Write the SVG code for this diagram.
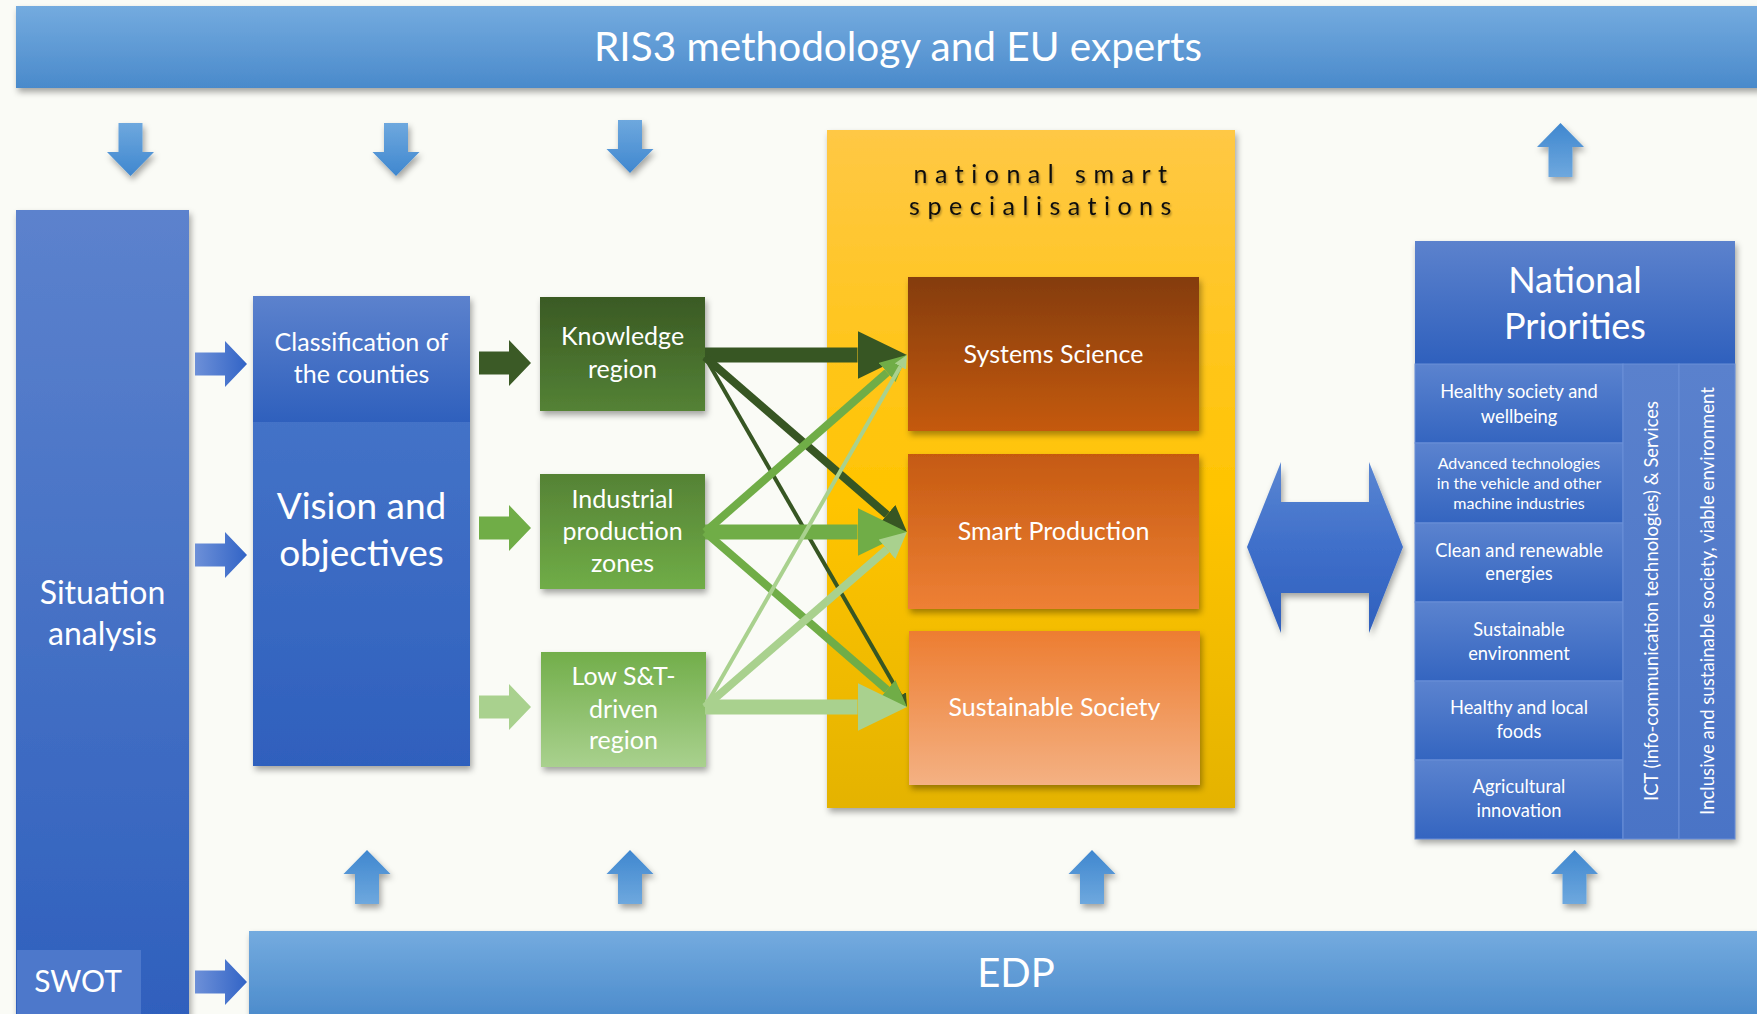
<svg xmlns="http://www.w3.org/2000/svg" xmlns:xlink="http://www.w3.org/1999/xlink" width="1757" height="1014" viewBox="0 0 1757 1014">
<defs>
<style>
.t{font-family:Lato,"Liberation Sans",sans-serif;fill:#ffffff;text-anchor:middle}
.nss{font-family:Lato,"Liberation Sans",sans-serif;fill:#111111;font-size:25px;letter-spacing:7.5px;text-anchor:middle}
.cd{stroke:#375623;fill:none}
.cm{stroke:#70ad47;fill:none}
.cl{stroke:#a9d18e;fill:none}
</style>
<filter id="sh" x="-10%" y="-10%" width="125%" height="125%"><feDropShadow dx="2" dy="4" stdDeviation="3" flood-color="#000" flood-opacity="0.35"/></filter>
<filter id="tsh" x="-10%" y="-20%" width="120%" height="150%"><feDropShadow dx="1" dy="2" stdDeviation="1" flood-color="#000" flood-opacity="0.35"/></filter>
<linearGradient id="gBanner" x1="0" y1="0" x2="0" y2="1"><stop offset="0" stop-color="#74abdf"/><stop offset="1" stop-color="#4a8acb"/></linearGradient>
<linearGradient id="gBlue" x1="0" y1="0" x2="0" y2="1"><stop offset="0" stop-color="#5c82cd"/><stop offset="1" stop-color="#2f60bd"/></linearGradient>
<linearGradient id="gBlue2" x1="0" y1="0" x2="0" y2="1"><stop offset="0" stop-color="#4b79cb"/><stop offset="1" stop-color="#2f60bd"/></linearGradient>
<linearGradient id="gRow" x1="0" y1="0" x2="0" y2="1"><stop offset="0" stop-color="#5b83cf"/><stop offset="1" stop-color="#3465c0"/></linearGradient>
<linearGradient id="gCol" x1="0" y1="0" x2="0" y2="1"><stop offset="0" stop-color="#5a81cd"/><stop offset="1" stop-color="#4a74c6"/></linearGradient>
<linearGradient id="gG1" x1="0" y1="0" x2="0" y2="1"><stop offset="0" stop-color="#3a5a24"/><stop offset="1" stop-color="#548235"/></linearGradient>
<linearGradient id="gG2" x1="0" y1="0" x2="0" y2="1"><stop offset="0" stop-color="#558235"/><stop offset="1" stop-color="#70ad47"/></linearGradient>
<linearGradient id="gG3" x1="0" y1="0" x2="0" y2="1"><stop offset="0" stop-color="#72ae4a"/><stop offset="1" stop-color="#a9d18e"/></linearGradient>
<linearGradient id="gO1" x1="0" y1="0" x2="0" y2="1"><stop offset="0" stop-color="#843c0c"/><stop offset="1" stop-color="#c55a11"/></linearGradient>
<linearGradient id="gO2" x1="0" y1="0" x2="0" y2="1"><stop offset="0" stop-color="#c55a11"/><stop offset="1" stop-color="#ee8035"/></linearGradient>
<linearGradient id="gO3" x1="0" y1="0" x2="0" y2="1"><stop offset="0" stop-color="#ed7d31"/><stop offset="1" stop-color="#f4b183"/></linearGradient>
<linearGradient id="gY" x1="0" y1="0" x2="0" y2="1"><stop offset="0" stop-color="#ffc845"/><stop offset="0.55" stop-color="#ffc400"/><stop offset="1" stop-color="#e4b300"/></linearGradient>
<linearGradient id="gDn" x1="0" y1="0" x2="0" y2="1"><stop offset="0" stop-color="#6ea8de"/><stop offset="1" stop-color="#3f87cf"/></linearGradient>
<linearGradient id="gUp" x1="0" y1="0" x2="0" y2="1"><stop offset="0" stop-color="#3f87cf"/><stop offset="1" stop-color="#6ea8de"/></linearGradient>
<linearGradient id="gRt" x1="0" y1="0" x2="1" y2="0"><stop offset="0" stop-color="#6d90d8"/><stop offset="1" stop-color="#3264c6"/></linearGradient>
<linearGradient id="gDbl" x1="0" y1="0" x2="0" y2="1"><stop offset="0" stop-color="#5a86d2"/><stop offset="0.5" stop-color="#3f6fca"/><stop offset="1" stop-color="#2f60bd"/></linearGradient>
<path id="dnArrow" d="M-12,0 H12 V29 H23.5 L0,53 L-23.5,29 H-12 Z"/>
<path id="upArrow" d="M0,0 L23.5,24 H12 V54 H-12 V24 H-23.5 Z"/>
<path id="rtArrow" d="M0,-11.5 H30 V-23 L52,0 L30,23 V11.5 H0 Z"/>
<marker id="mD" viewBox="0 0 3.3 3.2" markerWidth="3.3" markerHeight="3.2" refX="0" refY="1.6" orient="auto" markerUnits="strokeWidth"><path d="M0,0 L3.3,1.6 L0,3.2 Z" fill="#375623"/></marker>
<marker id="mM" viewBox="0 0 3.3 3.2" markerWidth="3.3" markerHeight="3.2" refX="0" refY="1.6" orient="auto" markerUnits="strokeWidth"><path d="M0,0 L3.3,1.6 L0,3.2 Z" fill="#70ad47"/></marker>
<marker id="mL" viewBox="0 0 3.3 3.2" markerWidth="3.3" markerHeight="3.2" refX="0" refY="1.6" orient="auto" markerUnits="strokeWidth"><path d="M0,0 L3.3,1.6 L0,3.2 Z" fill="#a9d18e"/></marker>
</defs>
<rect x="0" y="0" width="1757" height="1014" fill="#fafbf6"/>

<g id="ris3-banner">
<rect x="16" y="6" width="1745" height="82" fill="url(#gBanner)" filter="url(#sh)"/>
<text class="t" x="898" y="61" font-size="40.5">RIS3 methodology and EU experts</text>
</g>

<g id="situation-analysis">
<rect x="16" y="210" width="173" height="810" fill="url(#gBlue)" filter="url(#sh)"/>
<text class="t" x="102.5" y="604" font-size="32">Situation</text>
<text class="t" x="102.5" y="645" font-size="32">analysis</text>
</g>

<g id="swot">
<rect x="17" y="950" width="124" height="70" fill="#4d78cb"/>
<text class="t" x="78" y="992" font-size="30">SWOT</text>
</g>

<g id="classification">
<rect x="253" y="296" width="217" height="470" fill="url(#gBlue2)" filter="url(#sh)"/>
<rect x="253" y="296" width="217" height="126" fill="url(#gBlue)"/>
<text class="t" x="361.5" y="351" font-size="25">Classification of</text>
<text class="t" x="361.5" y="383" font-size="25">the counties</text>
</g>

<g id="vision">
<text class="t" x="361.5" y="519" font-size="37">Vision and</text>
<text class="t" x="361.5" y="566" font-size="37">objectives</text>
</g>

<g id="knowledge-region">
<rect x="540" y="297" width="165" height="114" fill="url(#gG1)" filter="url(#sh)"/>
<text class="t" x="622.5" y="345" font-size="25">Knowledge</text>
<text class="t" x="622.5" y="378" font-size="25">region</text>
</g>

<g id="industrial-zones">
<rect x="540" y="474" width="165" height="115" fill="url(#gG2)" filter="url(#sh)"/>
<text class="t" x="622.5" y="508" font-size="25">Industrial</text>
<text class="t" x="622.5" y="540" font-size="25">production</text>
<text class="t" x="622.5" y="572" font-size="25">zones</text>
</g>

<g id="low-st-region">
<rect x="541" y="652" width="165" height="115" fill="url(#gG3)" filter="url(#sh)"/>
<text class="t" x="623.5" y="685" font-size="25">Low S&amp;T-</text>
<text class="t" x="623.5" y="718" font-size="25">driven</text>
<text class="t" x="623.5" y="749" font-size="25">region</text>
</g>

<g id="national-smart-specialisations">
<rect x="827" y="130" width="408" height="678" fill="url(#gY)" filter="url(#sh)"/>
<g filter="url(#tsh)">
<text class="nss" x="1044" y="183">national smart</text>
<text class="nss" x="1044" y="215">specialisations</text>
</g>
</g>

<g id="systems-science">
<rect x="908" y="277" width="291" height="154" fill="url(#gO1)" filter="url(#sh)"/>
<text class="t" x="1053.5" y="363" font-size="25">Systems Science</text>
</g>

<g id="smart-production">
<rect x="908" y="454" width="291" height="155" fill="url(#gO2)" filter="url(#sh)"/>
<text class="t" x="1053.5" y="540" font-size="25">Smart Production</text>
</g>

<g id="sustainable-society">
<rect x="909" y="631" width="291" height="154" fill="url(#gO3)" filter="url(#sh)"/>
<text class="t" x="1054.5" y="716" font-size="25">Sustainable Society</text>
</g>

<g id="national-priorities">
<rect x="1415" y="241" width="320" height="598" fill="url(#gCol)" filter="url(#sh)"/>
<rect x="1415" y="241" width="320" height="123" fill="url(#gBlue)"/>
<text class="t" x="1575" y="293" font-size="36">National</text>
<text class="t" x="1575" y="339" font-size="36">Priorities</text>
<g stroke="#6a8fd8" stroke-width="1">
<rect x="1415" y="364" width="208" height="79" fill="url(#gRow)"/>
<rect x="1415" y="443" width="208" height="80" fill="url(#gRow)"/>
<rect x="1415" y="523" width="208" height="79" fill="url(#gRow)"/>
<rect x="1415" y="602" width="208" height="79" fill="url(#gRow)"/>
<rect x="1415" y="681" width="208" height="79" fill="url(#gRow)"/>
<rect x="1415" y="760" width="208" height="79" fill="url(#gRow)"/>
<rect x="1623" y="364" width="56" height="475" fill="url(#gCol)"/>
<rect x="1679" y="364" width="56" height="475" fill="url(#gCol)"/>
</g>
<text class="t" x="1519" y="398" font-size="18.3">Healthy society and</text>
<text class="t" x="1519" y="423" font-size="18.3">wellbeing</text>
<text class="t" x="1519" y="469" font-size="16">Advanced technologies</text>
<text class="t" x="1519" y="489" font-size="16">in the vehicle and other</text>
<text class="t" x="1519" y="509" font-size="16">machine industries</text>
<text class="t" x="1519" y="557" font-size="18.3">Clean and renewable</text>
<text class="t" x="1519" y="580" font-size="18.3">energies</text>
<text class="t" x="1519" y="636" font-size="18.3">Sustainable</text>
<text class="t" x="1519" y="660" font-size="18.3">environment</text>
<text class="t" x="1519" y="714" font-size="18.3">Healthy and local</text>
<text class="t" x="1519" y="738" font-size="18.3">foods</text>
<text class="t" x="1519" y="793" font-size="18.3">Agricultural</text>
<text class="t" x="1519" y="817" font-size="18.3">innovation</text>
<text class="t" transform="translate(1658,601) rotate(-90)" font-size="18.4">ICT (info-communication technologies) &amp; Services</text>
<text class="t" transform="translate(1714,601) rotate(-90)" font-size="18.6">Inclusive and sustainable society, viable environment</text>
</g>

<g id="edp-banner">
<rect x="249" y="931" width="1512" height="90" fill="url(#gBanner)" filter="url(#sh)"/>
<text class="t" x="1016" y="987" font-size="40">EDP</text>
</g>

<g id="connectors">
<g fill="url(#gDn)" filter="url(#sh)">
<use xlink:href="#dnArrow" href="#dnArrow" x="130.5" y="123"/>
<use xlink:href="#dnArrow" href="#dnArrow" x="396" y="123"/>
<use xlink:href="#dnArrow" href="#dnArrow" x="630" y="120"/>
</g>
<g fill="url(#gUp)" filter="url(#sh)">
<use xlink:href="#upArrow" href="#upArrow" x="1560.5" y="123"/>
<use xlink:href="#upArrow" href="#upArrow" x="367" y="850"/>
<use xlink:href="#upArrow" href="#upArrow" x="630" y="850"/>
<use xlink:href="#upArrow" href="#upArrow" x="1092" y="850"/>
<use xlink:href="#upArrow" href="#upArrow" x="1574.5" y="850"/>
</g>
<g fill="url(#gRt)">
<use xlink:href="#rtArrow" href="#rtArrow" x="195" y="364"/>
<use xlink:href="#rtArrow" href="#rtArrow" x="195" y="555"/>
<use xlink:href="#rtArrow" href="#rtArrow" x="195" y="982"/>
</g>
<use xlink:href="#rtArrow" href="#rtArrow" x="479" y="363" fill="#3b5a26"/>
<use xlink:href="#rtArrow" href="#rtArrow" x="479" y="528" fill="#70ad47"/>
<use xlink:href="#rtArrow" href="#rtArrow" x="479" y="707" fill="#a9d18e"/>
<polygon points="1247,547 1281,462 1281,502 1369,502 1369,462 1403,547 1369,633 1369,593 1281,593 1281,633" fill="url(#gDbl)" filter="url(#sh)"/>
<line class="cd" x1="705" y1="355" x2="857.5" y2="355" stroke-width="15" marker-end="url(#mD)"/>
<line class="cd" x1="705" y1="357" x2="887" y2="514.7" stroke-width="8" marker-end="url(#mD)"/>
<line class="cd" x1="705" y1="357" x2="900.4" y2="695.6" stroke-width="4" marker-end="url(#mD)"/>
<line class="cm" x1="705" y1="532" x2="887.1" y2="372.4" stroke-width="8" marker-end="url(#mM)"/>
<line class="cm" x1="705" y1="532" x2="857.5" y2="532" stroke-width="15" marker-end="url(#mM)"/>
<line class="cm" x1="705" y1="532" x2="887" y2="689.7" stroke-width="8" marker-end="url(#mM)"/>
<line class="cl" x1="705" y1="707" x2="900.4" y2="366.5" stroke-width="4" marker-end="url(#mL)"/>
<line class="cl" x1="705" y1="707" x2="887" y2="549.3" stroke-width="8" marker-end="url(#mL)"/>
<line class="cl" x1="705" y1="707" x2="857.5" y2="707" stroke-width="15" marker-end="url(#mL)"/>
</g>
</svg>
